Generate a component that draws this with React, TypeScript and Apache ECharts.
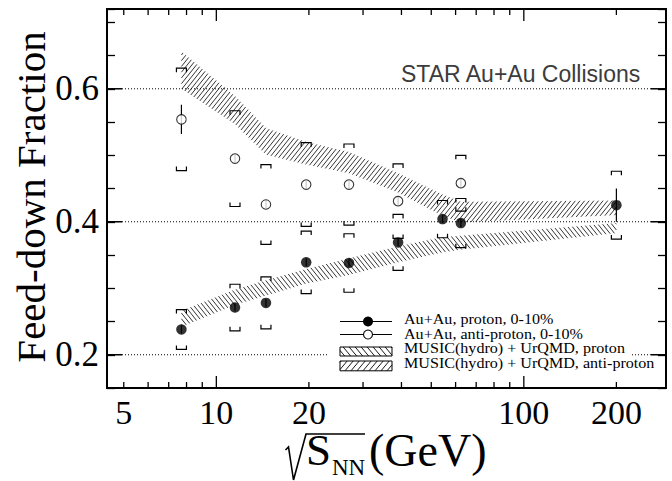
import React, { useEffect, useRef } from "react";
import * as echarts from "echarts";

// ---- data ----
const energies = [7.7, 11.5, 14.5, 19.6, 27, 39, 54.4, 62.4, 200];
const protonFrac = [0.238, 0.271, 0.278, 0.339, 0.338, 0.369, 0.404, 0.398, 0.425];
const protonStat = [0.006, 0.006, 0.006, 0.006, 0.006, 0.006, 0.006, 0.006, 0.025];
const protonSys = [0.03, 0.035, 0.039, 0.047, 0.044, 0.042, 0.028, 0.037, 0.051];

const antiEnergies = [7.7, 11.5, 14.5, 19.6, 27, 39, 62.4];
const antiFrac = [0.554, 0.495, 0.426, 0.456, 0.456, 0.431, 0.458];
const antiStat = [0.022, 0.006, 0.006, 0.006, 0.006, 0.006, 0.006];
const antiSys = [0.077, 0.072, 0.06, 0.063, 0.061, 0.056, 0.042];

const protonBandLow = [0.242, 0.275, 0.289, 0.307, 0.32, 0.339, 0.354, 0.358, 0.383];
const protonBandHigh = [0.266, 0.298, 0.312, 0.329, 0.345, 0.363, 0.377, 0.379, 0.398];
const antiBandLow = [0.6, 0.547, 0.501, 0.486, 0.473, 0.444, 0.409, 0.399, 0.41];
const antiBandHigh = [0.656, 0.589, 0.541, 0.52, 0.505, 0.473, 0.441, 0.43, 0.432];

const xTicks = [5, 6, 7, 8, 9, 10, 20, 30, 40, 50, 60, 70, 80, 90, 100, 200];
const xMajorTicks = [10, 100];
const xTickLabels = [5, 10, 20, 100, 200];
const yTickLabels = [0.2, 0.4, 0.6];

const X_MIN = 4.41;
const X_MAX = 290;
const Y_MIN = 0.15;
const Y_MAX = 0.72;

const legendLabels = [
  "Au+Au, proton, 0-10%",
  "Au+Au, anti-proton, 0-10%",
  "MUSIC(hydro) + UrQMD, proton",
  "MUSIC(hydro) + UrQMD, anti-proton",
];

const SERIF = '"Liberation Serif", "Times New Roman", serif';
const SANS = '"Liberation Sans", Arial, sans-serif';

// hatch lines a*x + y = c clipped to polygon
function hatch(poly: number[][], a: number, spacing: number): number[][][] {
  let cmin = Infinity;
  let cmax = -Infinity;
  for (const p of poly) {
    const c = a * p[0] + p[1];
    cmin = Math.min(cmin, c);
    cmax = Math.max(cmax, c);
  }
  const step = Math.abs(a) * spacing;
  const segs: number[][][] = [];
  for (let c = Math.ceil(cmin / step) * step; c <= cmax; c += step) {
    const pts: number[][] = [];
    for (let i = 0; i < poly.length; i++) {
      const p = poly[i];
      const q = poly[(i + 1) % poly.length];
      const fp = a * p[0] + p[1] - c;
      const fq = a * q[0] + q[1] - c;
      if (fp < 0 !== fq < 0) {
        const t = fp / (fp - fq);
        pts.push([p[0] + t * (q[0] - p[0]), p[1] + t * (q[1] - p[1])]);
      }
    }
    pts.sort((u, v) => u[0] - v[0]);
    for (let k = 0; k + 1 < pts.length; k += 2) segs.push([pts[k], pts[k + 1]]);
  }
  return segs;
}

const hatchLines = (segs: number[][][], lw: number) =>
  segs.map((s) => ({
    type: "line",
    shape: { x1: s[0][0], y1: s[0][1], x2: s[1][0], y2: s[1][1] },
    style: { stroke: "#000", lineWidth: lw },
  }));

const SLOPE = 1.25;

function bandSeries(low: number[], high: number[], a: number) {
  return {
    type: "custom",
    silent: true,
    z: 1,
    data: energies.map((e, i) => [e, low[i], high[i]]),
    encode: { x: 0, y: [1, 2] },
    renderItem: (params: any, api: any) => {
      const i = params.dataIndex;
      if (i >= energies.length - 1) return { type: "group", children: [] };
      const p0u = api.coord([energies[i], high[i]]);
      const p1u = api.coord([energies[i + 1], high[i + 1]]);
      const p1l = api.coord([energies[i + 1], low[i + 1]]);
      const p0l = api.coord([energies[i], low[i]]);
      const segs = hatch([p0u, p1u, p1l, p0l], a, 4.6);
      return { type: "group", children: hatchLines(segs, 0.8) };
    },
  };
}

function errSeries(xs: number[], vs: number[], stat: number[], sys: number[]) {
  return {
    type: "custom",
    silent: true,
    z: 2,
    data: xs.map((e, i) => [e, vs[i], stat[i], sys[i]]),
    encode: { x: 0, y: 1 },
    renderItem: (params: any, api: any) => {
      const e = api.value(0);
      const v = api.value(1);
      const st = api.value(2);
      const sy = api.value(3);
      const cx = api.coord([e, v])[0];
      const yT = api.coord([e, v + sy])[1];
      const yB = api.coord([e, v - sy])[1];
      const sT = api.coord([e, v + st])[1];
      const sB = api.coord([e, v - st])[1];
      const w = 5;
      const leg = 4;
      const st1 = { stroke: "#000", fill: null, lineWidth: 1.2 };
      return {
        type: "group",
        children: [
          { type: "line", shape: { x1: cx, y1: sT, x2: cx, y2: sB }, style: st1 },
          {
            type: "polyline",
            shape: { points: [[cx - w, yT + leg], [cx - w, yT], [cx + w, yT], [cx + w, yT + leg]] },
            style: st1,
          },
          {
            type: "polyline",
            shape: { points: [[cx - w, yB - leg], [cx - w, yB], [cx + w, yB], [cx + w, yB - leg]] },
            style: st1,
          },
        ],
      };
    },
  };
}

export default function App() {
  const ref = useRef<HTMLDivElement>(null);
  useEffect(() => {
    if (!ref.current) return;
    const chart = echarts.init(ref.current, undefined, { renderer: "svg" });

    // legend graphics
    const lx0 = 340;
    const lx1 = 392;
    const legendRows = [319.5, 334, 348.5, 363];
    const box3 = [[lx0, legendRows[2] - 1.5], [lx1, legendRows[2] - 1.5], [lx1, legendRows[2] + 7.5], [lx0, legendRows[2] + 7.5]];
    const box4 = [[lx0, legendRows[3] - 2], [lx1, legendRows[3] - 2], [lx1, legendRows[3] + 7.8], [lx0, legendRows[3] + 7.8]];
    const graphic: any[] = [
      { type: "rect", z: 100, shape: { x: 328, y: 311, width: 302, height: 63 }, style: { fill: "#fff" } },
      { type: "line", z: 101, shape: { x1: lx0, y1: legendRows[0] + 2, x2: lx1, y2: legendRows[0] + 2 }, style: { stroke: "#000", lineWidth: 1.2 } },
      { type: "circle", z: 102, shape: { cx: 368, cy: legendRows[0] + 2, r: 5 }, style: { fill: "#000" } },
      { type: "line", z: 101, shape: { x1: lx0, y1: legendRows[1] + 0.5, x2: lx1, y2: legendRows[1] + 0.5 }, style: { stroke: "#000", lineWidth: 1.2 } },
      { type: "circle", z: 102, shape: { cx: 368, cy: legendRows[1] + 0.5, r: 4.5 }, style: { fill: "#fff", stroke: "#000", lineWidth: 1.1 } },
      {
        type: "polygon", z: 101, shape: { points: box3 },
        style: { fill: "#fff", stroke: "#000", lineWidth: 1 },
      },
      {
        type: "polygon", z: 101, shape: { points: box4 },
        style: { fill: "#fff", stroke: "#000", lineWidth: 1 },
      },
      ...hatchLines(hatch(box3, -1.2, 6), 0.9).map((g) => ({ ...g, z: 102 })),
      ...hatchLines(hatch(box4, 1.2, 6), 0.9).map((g) => ({ ...g, z: 102 })),
      ...legendLabels.map((t, i) => ({
        type: "text",
        z: 103,
        x: 404,
        y: legendRows[i],
        scaleX: 1.15,
        style: {
          text: t,
          fill: "#000",
          font: `14px ${SERIF}`,
          lineHeight: 12,
          align: "left",
          verticalAlign: "middle",
        },
      })),
      {
        type: "text",
        z: 103,
        x: 401,
        y: 74,
        style: { text: "STAR Au+Au Collisions", fill: "#3c3c3c", font: `23px ${SANS}`, align: "left", verticalAlign: "middle" },
      },
      {
        type: "text",
        z: 103,
        x: 31,
        y: 197,
        rotation: Math.PI / 2,
        style: { text: "Feed-down Fraction", fill: "#000", font: `41px ${SERIF}`, align: "center", verticalAlign: "middle" },
      },
      {
        type: "polyline",
        z: 103,
        shape: { points: [[285.5, 450], [288.5, 447], [293.5, 480], [306, 434], [365, 434]] },
        style: { stroke: "#000", lineWidth: 1.6, fill: null },
      },
      {
        type: "text", z: 103, x: 306, y: 450,
        style: { text: "S", fill: "#000", font: `45px ${SERIF}`, align: "left", verticalAlign: "middle" },
      },
      {
        type: "text", z: 103, x: 332, y: 467,
        style: { text: "NN", fill: "#000", font: `23px ${SERIF}`, align: "left", verticalAlign: "middle" },
      },
      {
        type: "text", z: 103, x: 369, y: 450,
        style: { text: "(GeV)", fill: "#000", font: `46px ${SERIF}`, align: "left", verticalAlign: "middle" },
      },
    ];

    const yAxisBase = {
      type: "value",
      min: Y_MIN,
      max: Y_MAX,
      interval: 0.05,
      axisLine: { show: false },
      splitLine: { show: false },
      axisTick: { show: true, inside: true, length: 8, lineStyle: { color: "#000", width: 1.3 } },
    };

    const option: any = {
      animation: false,
      backgroundColor: "#fff",
      grid: {
        left: 107,
        right: 6,
        top: 9,
        bottom: 93,
        show: true,
        borderColor: "#000",
        borderWidth: 2,
        backgroundColor: "transparent",
        outerBoundsMode: "none",
      },
      xAxis: {
        type: "log",
        logBase: 10,
        min: X_MIN,
        max: X_MAX,
        axisLine: { show: false },
        axisTick: { show: false },
        axisLabel: { show: false },
        splitLine: { show: false },
      },
      yAxis: [
        {
          ...yAxisBase,
          position: "left",
          axisLabel: {
            show: true,
            margin: 8,
            color: "#000",
            fontSize: 35,
            fontFamily: SERIF,
            formatter: (v: number) => {
              const m = yTickLabels.find((t) => Math.abs(t - v) < 1e-6);
              return m !== undefined ? m.toFixed(1) : "";
            },
          },
        },
        { ...yAxisBase, position: "right", axisLabel: { show: false } },
      ],
      graphic,
      series: [
        // y major ticks + dotted grid lines
        {
          type: "custom",
          silent: true,
          z: 0,
          data: yTickLabels.map((v) => [X_MIN, v]),
          encode: { x: 0, y: 1 },
          renderItem: (params: any, api: any) => {
            const v = api.value(1);
            const y = api.coord([X_MIN, v])[1];
            const cs = params.coordSys;
            const l = cs.x;
            const r = cs.x + cs.width;
            return {
              type: "group",
              children: [
                { type: "line", shape: { x1: l, y1: y, x2: l + 15, y2: y }, style: { stroke: "#000", lineWidth: 1.5 } },
                { type: "line", shape: { x1: r - 15, y1: y, x2: r, y2: y }, style: { stroke: "#000", lineWidth: 1.5 } },
                {
                  type: "line",
                  shape: { x1: l + 15, y1: y, x2: r - 15, y2: y },
                  style: { stroke: "#000", lineWidth: 1, lineDash: [1, 2] },
                },
              ],
            };
          },
        },
        // x ticks and labels
        {
          type: "custom",
          silent: true,
          z: 3,
          data: xTicks.map((v) => [v, Y_MIN]),
          encode: { x: 0, y: 1 },
          renderItem: (params: any, api: any) => {
            const v = api.value(0);
            const x = api.coord([v, Y_MIN])[0];
            const cs = params.coordSys;
            const top = cs.y;
            const bot = cs.y + cs.height;
            const len = xMajorTicks.includes(v) ? 12 : 6;
            const children: any[] = [
              { type: "line", shape: { x1: x, y1: bot, x2: x, y2: bot - len }, style: { stroke: "#000", lineWidth: 1.3 } },
              { type: "line", shape: { x1: x, y1: top, x2: x, y2: top + len }, style: { stroke: "#000", lineWidth: 1.3 } },
            ];
            if (xTickLabels.includes(v)) {
              children.push({
                type: "text",
                x,
                y: bot + 24,
                style: { text: String(v), fill: "#000", font: `34px ${SERIF}`, align: "center", verticalAlign: "middle" },
              });
            }
            return { type: "group", children };
          },
        },
        bandSeries(protonBandLow, protonBandHigh, -SLOPE),
        bandSeries(antiBandLow, antiBandHigh, SLOPE),
        errSeries(energies, protonFrac, protonStat, protonSys),
        errSeries(antiEnergies, antiFrac, antiStat, antiSys),
        {
          type: "scatter",
          name: "Au+Au, proton, 0-10%",
          z: 5,
          silent: true,
          symbol: "circle",
          symbolSize: 10.5,
          itemStyle: { color: "#000" },
          data: energies.map((e, i) => [e, protonFrac[i]]),
        },
        {
          type: "scatter",
          name: "Au+Au, anti-proton, 0-10%",
          z: 5,
          silent: true,
          symbol: "circle",
          symbolSize: 9.5,
          itemStyle: { color: "#fff", borderColor: "#000", borderWidth: 1.1 },
          data: antiEnergies.map((e, i) => [e, antiFrac[i]]),
        },
      ],
    };
    chart.setOption(option);
    return () => chart.dispose();
  }, []);
  return (
    <div
      ref={ref}
      style={{ position: "absolute", left: 0, top: 0, width: 672, height: 481, background: "#fff" }}
    />
  );
}
